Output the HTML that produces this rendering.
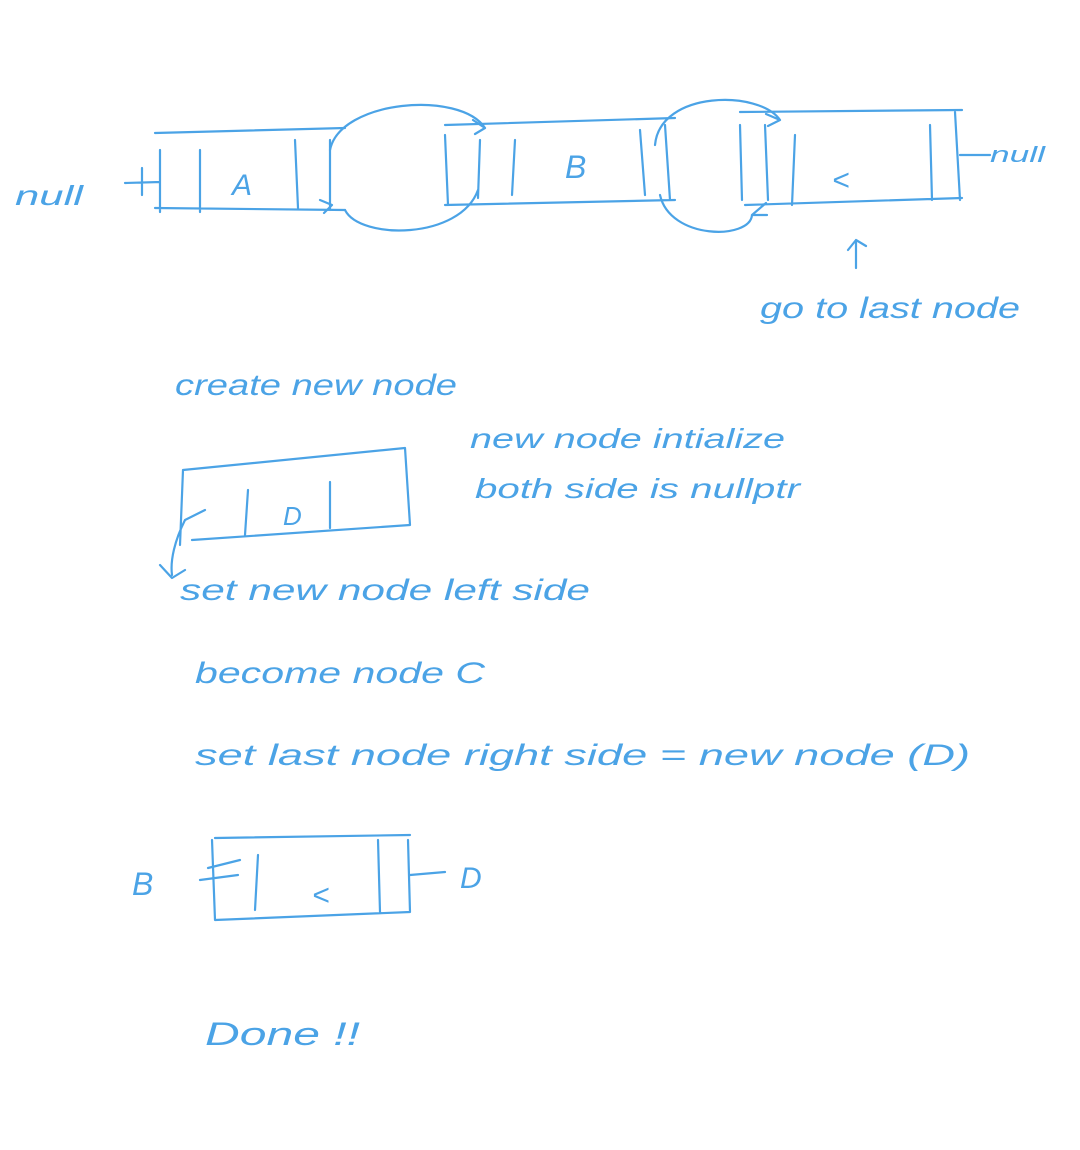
<!DOCTYPE html>
<html>
<head>
<meta charset="utf-8">
<style>
  html,body{margin:0;padding:0;background:#fff;}
  svg{display:block;}
  .s{fill:none;stroke:#4ba3e6;stroke-width:2.2;stroke-linecap:round;stroke-linejoin:round;}
  text{fill:#4ba3e6;font-family:"Liberation Sans",sans-serif;font-style:italic;}
</style>
</head>
<body>
<svg width="1080" height="1150" viewBox="0 0 1080 1150">
  <!-- top row -->
  <g>
    <text x="15" y="205" font-size="28" textLength="68" lengthAdjust="spacingAndGlyphs">null</text>
  </g>
  <g>
    <path class="s" d="M155 133 L345 128 M155 208 L345 210 M125 183 L160 182 M142 168 L142 195 M160 150 L160 212 M200 150 L200 212 M295 140 L298 208 M330 140 L330 210"/>
    <text x="232" y="195" font-size="30">A</text>
  </g>
  <g>
    <path class="s" d="M445 125 L675 118 M445 205 L675 200 M445 135 L448 205 M480 140 L478 198 M515 140 L512 195 M640 130 L645 195 M665 125 L670 200"/>
    <text x="565" y="178" font-size="32">B</text>
  </g>
  <g>
    <path class="s" d="M740 112 L962 110 M745 205 L962 198 M740 125 L742 200 M765 125 L768 200 M795 135 L792 205 M930 125 L932 200 M955 112 L960 200 M960 155 L990 155"/>
    <text x="832" y="190" font-size="30">&lt;</text>
  </g>
  <g>
    <path class="s" d="M330 150 C 340 100, 460 90, 485 128 M485 128 l-12 -8 M485 128 l-10 6"/>
    <path class="s" d="M345 210 C 360 240, 460 240, 478 190 M320 200 l12 5 l-8 8"/>
    <path class="s" d="M655 145 C 660 90, 760 90, 780 120 M780 120 l-14 -6 M780 120 l-12 6"/>
    <path class="s" d="M660 195 C 670 240, 750 240, 752 215 M752 215 l14 -12 M752 215 l15 0"/>
  </g>
  <g>
    <text x="990" y="162" font-size="22" textLength="55" lengthAdjust="spacingAndGlyphs">null</text>
  </g>
  <g>
    <path class="s" d="M856 268 L856 240 M848 250 L856 240 L866 246"/>
  </g>
  <text x="760" y="318" font-size="30" textLength="260" lengthAdjust="spacingAndGlyphs">go to last node</text>

  <text x="175" y="395" font-size="30" textLength="282" lengthAdjust="spacingAndGlyphs">create new node</text>
  <text x="470" y="448" font-size="28" textLength="315" lengthAdjust="spacingAndGlyphs">new node intialize</text>
  <text x="475" y="498" font-size="28" textLength="325" lengthAdjust="spacingAndGlyphs">both side is nullptr</text>

  <g>
    <path class="s" d="M183 470 L180 545 M183 470 L405 448 M405 448 L410 525 M192 540 L410 525 M248 490 L245 535 M330 482 L330 528 M185 520 L205 510 M185 520 C 175 540, 170 560, 172 575 M160 565 L172 578 L185 570"/>
    <text x="283" y="525" font-size="26">D</text>
  </g>

  <text x="180" y="600" font-size="30" textLength="410" lengthAdjust="spacingAndGlyphs">set new node left side</text>
  <text x="195" y="683" font-size="30" textLength="290" lengthAdjust="spacingAndGlyphs">become node  C</text>
  <text x="195" y="765" font-size="30" textLength="775" lengthAdjust="spacingAndGlyphs">set last node right side  = new node (D)</text>

  <g>
    <path class="s" d="M215 838 L410 835 M215 920 L410 912 M212 840 L215 920 M208 868 L240 860 M200 880 L238 875 M258 855 L255 910 M378 840 L380 912 M408 840 L410 912 M410 875 L445 872"/>
    <text x="312" y="905" font-size="30">&lt;</text>
    <text x="132" y="895" font-size="32">B</text>
    <text x="460" y="888" font-size="30">D</text>
  </g>

  <text x="205" y="1045" font-size="32" textLength="155" lengthAdjust="spacingAndGlyphs">Done !!</text>
</svg>
</body>
</html>
